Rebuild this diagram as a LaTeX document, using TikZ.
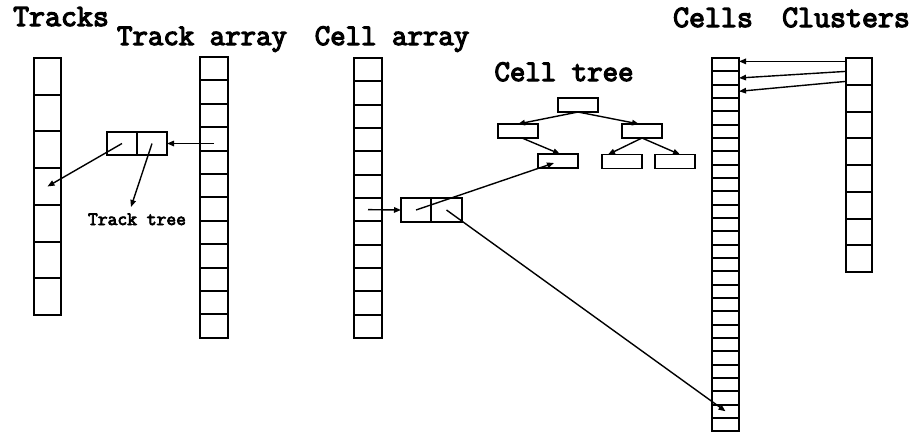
\documentclass[tikz,border=0pt]{standalone}
\usepackage{fontspec}
\newfontfamily\courfont{Latin Modern Mono}[FakeBold=4]
\usetikzlibrary{arrows.meta,calc}
\begin{document}
\begin{tikzpicture}[x=1pt,y=-1pt,
  cellbox/.style n args={2}{draw,line width=2pt,inner sep=0pt,outer sep=0pt,anchor=north west,minimum width=#1,minimum height=#2},
  treebox/.style={draw,line width=1.8pt,inner sep=0pt,outer sep=0pt,minimum width=40pt,minimum height=14pt},
  arr/.style={-{Triangle[length=7pt,width=5.5pt]},line width=1.4pt},
  bigtitle/.style={anchor=base,inner sep=0pt,font=\courfont\fontsize{31}{33}\selectfont},
  midtitle/.style={anchor=base,inner sep=0pt,font=\courfont\fontsize{30}{32}\selectfont},
  smalltitle/.style={anchor=base,inner sep=0pt,font=\courfont\fontsize{19}{21}\selectfont}]
\useasboundingbox (0,0) rectangle (917,432);

% titles
\node[bigtitle] (tTracks) at (61,26) {Tracks};
\node[midtitle] (tTrackArray) at (202,45) {Track array};
\node[midtitle] (tCellArray) at (392,45) {Cell array};
\node[midtitle] (tCellTree) at (564,81) {Cell tree};
\node[bigtitle] (tCells) at (713,27) {Cells};
\node[bigtitle] (tClusters) at (846,27) {Clusters};

% columns
\foreach \i in {1,...,7} \node[cellbox={27pt}{36.7pt}] (tr\i) at (34,{58+(\i-1)*36.7}) {};
\foreach \i in {1,...,12} \node[cellbox={28pt}{23.4pt}] (ta\i) at (200,{57+(\i-1)*23.4}) {};
\foreach \i in {1,...,12} \node[cellbox={28pt}{23.33pt}] (ca\i) at (354,{58+(\i-1)*23.33}) {};
\foreach \i in {1,...,28} \node[cellbox={27pt}{13.33pt}] (ce\i) at (712,{58+(\i-1)*13.33}) {};
\foreach \i in {1,...,8} \node[cellbox={26pt}{26.75pt}] (cl\i) at (846,{58+(\i-1)*26.75}) {};

% track tree pair
\node[cellbox={30pt}{23pt}] (ttL) at (107,132) {};
\node[cellbox={30pt}{23pt}] (ttR) at (137,132) {};
\node[smalltitle] (ttlab) at (137,225) {Track tree};
\coordinate (ttTip) at (131,207);

% cell array pair
\node[cellbox={30pt}{24pt}] (caL) at (401,198) {};
\node[cellbox={31pt}{24pt}] (caR) at (431,198) {};

% cell tree
\node[treebox] (root) at (578,105) {};
\node[treebox] (lc) at (518,131) {};
\node[treebox] (rc) at (642,131) {};
\node[treebox] (gc1) at (558,161) {};
\node[treebox] (gc2) at (622,161.5) {};
\node[treebox] (gc3) at (675,161.5) {};

% arrows: track part
\draw[arr] (ttR.east -| ta4.center) -- (ttR.east);
\draw[arr] (ttL.center) -- (tr4.center);
\draw[arr] (ttR.center) -- (ttTip);

% arrows: cell part
\draw[arr] (ca7.center) -- (caL.west);
\draw[arr] (caL.center) -- ($(gc1.center)+(-4,2)$);
\draw[arr] (caR.center) -- (ce27.center);

% cell tree arrows
\draw[arr] (root.south) -- (lc.north);
\draw[arr] (root.south) -- ($(rc.north)+(-3,0)$);
\draw[arr] ($(lc.south)+(4,0)$) -- ($(gc1.north)+(2,0)$);
\draw[arr] (rc.south) -- ($(gc2.north)+(-14,0)$);
\draw[arr] (rc.south) -- ($(gc3.north)+(5,0)$);

% clusters to cells
\draw[arr] ($(cl1.west)+(0,-10)$) coordinate (s1) -- (s1 -| ce1.east);
\draw[arr] (cl1.west) -- (ce2.east);
\draw[arr] ($(cl1.west)+(0,10)$) -- (ce3.east);
\end{tikzpicture}
\end{document}
